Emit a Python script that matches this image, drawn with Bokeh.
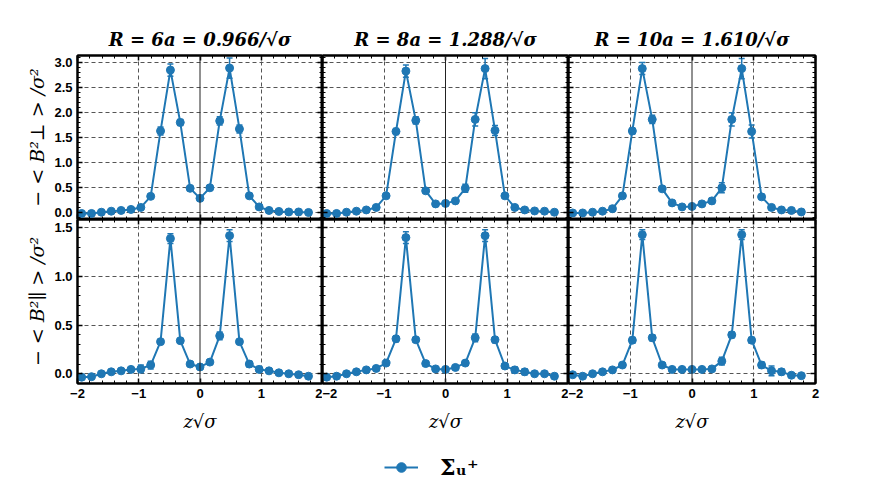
from bokeh.plotting import figure
from bokeh.models import (ColumnDataSource, Whisker, TeeHead, FixedTicker, LinearAxis,
                          Range1d, Span, Legend, LegendItem, PrintfTickFormatter,
                          CustomLabelingPolicy)
from bokeh.layouts import column, row
from bokeh.embed import file_html
from bokeh.resources import INLINE

# ---------------- data ----------------
z_sites = [-1.932, -1.771, -1.610, -1.449, -1.288, -1.127, -0.966, -0.805, -0.644, -0.483,
           -0.322, -0.161, 0.0, 0.161, 0.322, 0.483, 0.644, 0.805, 0.966, 1.127,
           1.288, 1.449, 1.610, 1.771]

titles = ["R = 6a = 0.966/√σ", "R = 8a = 1.288/√σ", "R = 10a = 1.610/√σ"]

perp_R6 = [-0.01, -0.01, 0.015, 0.035, 0.05, 0.07, 0.11, 0.33, 1.63, 2.84, 1.80, 0.49,
           0.29, 0.50, 1.83, 2.88, 1.67, 0.34, 0.12, 0.05, 0.03, 0.02, 0.02, 0.01]
perp_R6_err = [0.01, 0.01, 0.01, 0.01, 0.01, 0.01, 0.02, 0.03, 0.08, 0.12, 0.06, 0.03,
               0.03, 0.04, 0.08, 0.20, 0.08, 0.04, 0.02, 0.01, 0.01, 0.01, 0.01, 0.01]
perp_R8 = [-0.01, -0.01, 0.015, 0.035, 0.06, 0.11, 0.34, 1.62, 2.82, 1.84, 0.44, 0.18,
           0.19, 0.24, 0.49, 1.86, 2.87, 1.64, 0.34, 0.11, 0.06, 0.04, 0.035, 0.015]
perp_R8_err = [0.01, 0.01, 0.01, 0.01, 0.01, 0.02, 0.03, 0.06, 0.12, 0.07, 0.03, 0.02,
               0.02, 0.03, 0.08, 0.13, 0.20, 0.10, 0.04, 0.02, 0.01, 0.01, 0.01, 0.01]
perp_R10 = [0.0, 0.0, 0.015, 0.035, 0.085, 0.34, 1.63, 2.87, 1.86, 0.48, 0.20, 0.12,
            0.13, 0.18, 0.24, 0.50, 1.86, 2.87, 1.62, 0.32, 0.11, 0.06, 0.05, 0.02]
perp_R10_err = [0.01, 0.01, 0.01, 0.01, 0.02, 0.03, 0.06, 0.12, 0.08, 0.03, 0.02, 0.02,
                0.02, 0.02, 0.05, 0.10, 0.13, 0.20, 0.13, 0.04, 0.02, 0.01, 0.01, 0.01]

par_R6 = [-0.035, -0.03, 0.0, 0.02, 0.03, 0.045, 0.05, 0.09, 0.33, 1.39, 0.34, 0.10,
          0.07, 0.12, 0.39, 1.42, 0.33, 0.10, 0.045, 0.03, 0.01, 0.0, -0.01, -0.025]
par_R6_err = [0.01, 0.01, 0.01, 0.01, 0.01, 0.02, 0.04, 0.04, 0.02, 0.05, 0.02, 0.02,
              0.02, 0.02, 0.04, 0.06, 0.02, 0.03, 0.03, 0.02, 0.02, 0.01, 0.01, 0.01]
par_R8 = [-0.035, -0.025, 0.0, 0.02, 0.04, 0.055, 0.11, 0.36, 1.40, 0.35, 0.105, 0.05,
          0.045, 0.065, 0.11, 0.37, 1.42, 0.35, 0.08, 0.04, 0.02, 0.0, 0.0, -0.025]
par_R8_err = [0.01, 0.01, 0.01, 0.01, 0.02, 0.02, 0.02, 0.03, 0.06, 0.02, 0.02, 0.01,
              0.01, 0.01, 0.02, 0.04, 0.06, 0.03, 0.02, 0.03, 0.03, 0.01, 0.01, 0.01]
par_R10 = [-0.01, -0.025, 0.0, 0.02, 0.04, 0.09, 0.345, 1.43, 0.37, 0.09, 0.045, 0.045,
           0.045, 0.045, 0.05, 0.13, 0.40, 1.43, 0.345, 0.09, 0.03, 0.02, -0.015, -0.02]
par_R10_err = [0.01, 0.01, 0.01, 0.01, 0.01, 0.02, 0.03, 0.05, 0.03, 0.02, 0.01, 0.01,
               0.01, 0.01, 0.01, 0.04, 0.03, 0.05, 0.03, 0.03, 0.05, 0.03, 0.01, 0.01]

x_major = [-2, -1, 0, 1, 2]
x_minor = [-1.8, -1.6, -1.4, -1.2, -0.8, -0.6, -0.4, -0.2, 0.2, 0.4, 0.6, 0.8,
           1.2, 1.4, 1.6, 1.8]
x_labels = {-2: "−2", -1: "−1", 0: "0", 1: "1", 2: "2"}
y_major_top = [0.0, 0.5, 1.0, 1.5, 2.0, 2.5, 3.0]
y_major_bot = [0.0, 0.5, 1.0, 1.5]
y_minor_top = [-0.1, 0.1, 0.2, 0.3, 0.4, 0.6, 0.7, 0.8, 0.9, 1.1, 1.2, 1.3, 1.4,
               1.6, 1.7, 1.8, 1.9, 2.1, 2.2, 2.3, 2.4, 2.6, 2.7, 2.8, 2.9, 3.1]
y_minor_bot = [-0.1, 0.1, 0.2, 0.3, 0.4, 0.6, 0.7, 0.8, 0.9, 1.1, 1.2, 1.3, 1.4]

ylabel_top = "− < B²⊥ > /σ²"
ylabel_bot = "− < B²∥ > /σ²"
xlabel = "z√σ"
legend_label = "Σᵤ⁺"

BLUE = "#1f77b4"
TICK_FONT = "Liberation Sans"
SERIF = "DejaVu Serif"
FH = 164
frame_widths = [245, 246, 247]

NO_LABELS = CustomLabelingPolicy(code="""
for (let i = 0; i < indices.size; i++) { indices.unset(i) }
return indices
""")


def style_axis(ax, show_labels, major, minor):
    ax.ticker = FixedTicker(ticks=major, minor_ticks=minor)
    ax.major_tick_in = 5
    ax.major_tick_out = 0
    ax.minor_tick_in = 3
    ax.minor_tick_out = 0
    ax.major_tick_line_color = "black"
    ax.minor_tick_line_color = "black"
    ax.major_tick_line_width = 1.5
    ax.minor_tick_line_width = 1
    ax.axis_line_color = "black"
    ax.axis_line_width = 2
    ax.major_label_text_font = TICK_FONT
    ax.major_label_text_font_style = "bold"
    ax.major_label_text_color = "black"
    if show_labels:
        ax.major_label_text_font_size = "13px"
        ax.major_label_standoff = 5
    else:
        ax.major_label_text_font_size = "0px"
        ax.major_label_standoff = 0
        ax.major_label_policy = NO_LABELS


def make_panel(col, top_row, yv, ev):
    yr = (-0.13, 3.13) if top_row else (-0.1, 1.586)
    ymaj = y_major_top if top_row else y_major_bot
    ymin = y_minor_top if top_row else y_minor_bot
    p = figure(output_backend="svg", toolbar_location=None,
               frame_width=frame_widths[col], frame_height=FH,
               x_range=Range1d(-2, 2), y_range=Range1d(*yr),
               min_border_left=77 if col == 0 else 0,
               min_border_right=12 if col == 2 else 0,
               min_border_top=55 if top_row else 0,
               min_border_bottom=0 if top_row else 52,
               background_fill_color="white", border_fill_color="white")
    p.outline_line_color = "black"
    p.outline_line_width = 2

    ax_bottom = p.below[0]
    ax_left = p.left[0]
    style_axis(ax_bottom, not top_row, x_major, x_minor)
    ax_bottom.major_label_overrides = x_labels
    style_axis(ax_left, col == 0, ymaj, ymin)
    ax_left.formatter = PrintfTickFormatter(format="%.1f")
    ax_top = LinearAxis()
    style_axis(ax_top, False, x_major, x_minor)
    p.add_layout(ax_top, "above")
    ax_right = LinearAxis()
    style_axis(ax_right, False, ymaj, ymin)
    p.add_layout(ax_right, "right")

    if col == 0:
        ax_left.axis_label = ylabel_top if top_row else ylabel_bot
        ax_left.axis_label_text_font = SERIF
        ax_left.axis_label_text_font_style = "italic"
        ax_left.axis_label_text_font_size = "19px"
        ax_left.axis_label_standoff = 3
        ax_left.axis_label_text_color = "black"
    if not top_row:
        ax_bottom.axis_label = xlabel
        ax_bottom.axis_label_text_font = SERIF
        ax_bottom.axis_label_text_font_style = "italic"
        ax_bottom.axis_label_text_font_size = "18px"
        ax_bottom.axis_label_standoff = 10
        ax_bottom.axis_label_text_color = "black"

    if top_row:
        p.title.text = titles[col]
        p.title.text_font = SERIF
        p.title.text_font_style = "bold italic"
        p.title.text_font_size = "18px"
        p.title.text_color = "black"
        p.title.align = "center"
        p.title.standoff = 11

    p.xgrid.ticker = FixedTicker(ticks=[-2, -1, 1, 2])
    p.ygrid.ticker = FixedTicker(ticks=ymaj)
    for g in (p.xgrid[0], p.ygrid[0]):
        g.grid_line_color = "#555555"
        g.grid_line_dash = "4 3"
        g.grid_line_width = 1
    p.add_layout(Span(location=0, dimension="height", line_color="#222222", line_width=1))

    src = ColumnDataSource(data=dict(
        x=z_sites, y=yv,
        upper=[a + b for a, b in zip(yv, ev)],
        lower=[a - b for a, b in zip(yv, ev)]))
    p.line("x", "y", source=src, line_color=BLUE, line_width=2)
    p.add_layout(Whisker(base="x", upper="upper", lower="lower", source=src,
                         line_color=BLUE, line_width=1.5, level="glyph",
                         upper_head=TeeHead(size=6, line_color=BLUE, line_width=1.5),
                         lower_head=TeeHead(size=6, line_color=BLUE, line_width=1.5)))
    p.scatter("x", "y", source=src, size=8, fill_color=BLUE, line_color=BLUE)
    return p, src


top_data = [(perp_R6, perp_R6_err), (perp_R8, perp_R8_err), (perp_R10, perp_R10_err)]
bot_data = [(par_R6, par_R6_err), (par_R8, par_R8_err), (par_R10, par_R10_err)]

top_built = [make_panel(i, True, *top_data[i]) for i in range(3)]
bot_built = [make_panel(i, False, *bot_data[i]) for i in range(3)]
top_row = [b[0] for b in top_built]
bot_row = [b[0] for b in bot_built]

# legend strip: same data source, but its ranges keep the series out of view
lg = figure(output_backend="svg", toolbar_location=None, width=830, height=52,
            x_range=Range1d(10, 11), y_range=Range1d(10, 11), min_border=0,
            background_fill_color="white", border_fill_color="white")
lg.xaxis.visible = False
lg.yaxis.visible = False
lg.grid.visible = False
lg.outline_line_color = None
leg_src = top_built[0][1]
lr = lg.line("x", "y", source=leg_src, line_color=BLUE, line_width=2)
sr = lg.scatter("x", "y", source=leg_src, size=7, fill_color=BLUE, line_color=BLUE)
legend = Legend(items=[LegendItem(label=legend_label, renderers=[lr, sr])],
                location=(384, 7), glyph_width=34, glyph_height=24, label_standoff=22,
                padding=0, margin=0, border_line_color=None, background_fill_alpha=0,
                label_text_font=SERIF, label_text_font_style="bold",
                label_text_font_size="22px", label_text_color="black")
lg.add_layout(legend)

layout = column(row(*top_row, spacing=0), row(*bot_row, spacing=0), lg, spacing=0)

open("out.html", "w").write(file_html(layout, INLINE))
